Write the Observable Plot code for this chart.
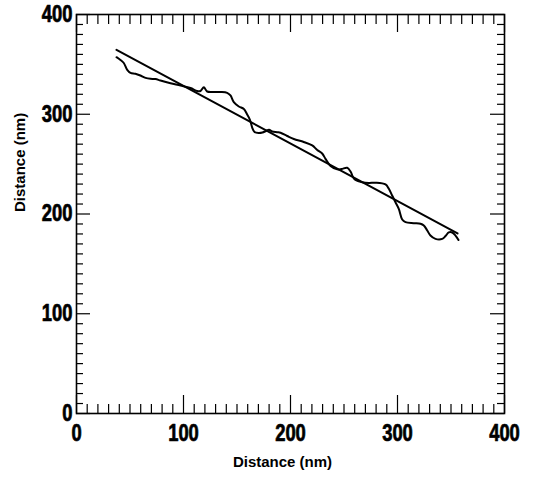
<!DOCTYPE html>
<html>
<head>
<meta charset="utf-8">
<script src="https://cdn.jsdelivr.net/npm/d3@7"></script>
<script src="https://cdn.jsdelivr.net/npm/@observablehq/plot@0.6"></script>
<style>
  html, body { margin: 0; padding: 0; background: #fff; }
</style>
</head>
<body>
<script>
// ---- data ----
const xTitle = "Distance (nm)";
const yTitle = "Distance (nm)";
const majorTicks = [0, 100, 200, 300, 400];
const minorTicks = d3.range(0, 401, 10).filter(v => v % 100 !== 0);

// measured profile (x in nm, y in nm)
const profileX = [37.4, 41.1, 44.2, 47.4, 50.5, 55.1, 59.8, 64.5, 69.2, 73.8, 78.5, 87.9, 97.2, 106.5, 112.8, 115.9, 119.0, 122.1, 128.3, 134.6, 140.8, 143.9, 147.0, 151.7, 156.4, 159.5, 162.0, 164.2, 166.4, 170.1, 173.8, 177.1, 179.9, 182.9, 187.6, 190.7, 196.9, 203.1, 212.4, 220.3, 225.0, 229.6, 232.7, 237.4, 243.6, 247.7, 253.0, 256.1, 258.6, 260.7, 267.0, 273.2, 279.4, 288.8, 291.9, 295.0, 298.1, 301.2, 304.4, 307.5, 315.2, 321.5, 324.6, 327.8, 330.8, 335.5, 341.8, 344.9, 347.9, 351.1, 354.2, 357.0];
const profileY = [357.2, 354.4, 351.4, 344.4, 341.4, 340.6, 338.8, 336.5, 335.5, 335.3, 333.8, 331.1, 328.8, 326.3, 323.3, 323.3, 327.0, 322.8, 322.3, 322.3, 321.5, 318.8, 312.1, 307.8, 305.3, 299.7, 294.7, 286.7, 282.2, 281.2, 281.7, 283.2, 284.5, 282.7, 282.0, 281.4, 278.2, 275.2, 272.2, 268.7, 264.2, 260.7, 255.3, 248.1, 244.8, 245.1, 246.3, 242.6, 236.6, 234.1, 231.9, 231.1, 231.3, 229.6, 225.3, 218.5, 211.8, 205.2, 194.5, 191.8, 190.8, 190.2, 188.5, 183.5, 178.4, 175.1, 175.1, 177.9, 181.5, 181.5, 178.4, 173.9];

// linear fit endpoints
const fitX = [37.4, 356.1];
const fitY = [364.6, 180.5];

// ---- build ----
const profile = profileX.map((x, i) => ({x, y: profileY[i]}));
const fit = fitX.map((x, i) => ({x, y: fitY[i]}));

const W = 537, H = 480;
const mL = 76, mR = 33, mT = 14, mB = 67;
const unitsPerPxX = 400 / (W - mL - mR);
const unitsPerPxY = 400 / (H - mT - mB);
const lx = px => px * unitsPerPxX;
const ly = px => px * unitsPerPxY;

const tickFont = "'Liberation Sans', Arial, Helvetica, sans-serif";
const titleFont = "'Liberation Sans', Arial, Helvetica, sans-serif";

const chart = Plot.plot({
  width: W,
  height: H,
  marginLeft: mL,
  marginRight: mR,
  marginTop: mT,
  marginBottom: mB,
  style: {background: "#fff", color: "#000", overflow: "visible"},
  x: {domain: [0, 400], axis: null},
  y: {domain: [0, 400], axis: null},
  marks: [
    // inward ticks: bottom & top
    Plot.ruleX(minorTicks, {x: d => d, y1: 0, y2: ly(9), stroke: "#000", strokeWidth: 1.2}),
    Plot.ruleX(majorTicks, {x: d => d, y1: 0, y2: ly(18), stroke: "#000", strokeWidth: 1.2}),
    Plot.ruleX(minorTicks, {x: d => d, y1: 400, y2: 400 - ly(10), stroke: "#000", strokeWidth: 1.2}),
    Plot.ruleX(majorTicks, {x: d => d, y1: 400, y2: 400 - ly(18), stroke: "#000", strokeWidth: 1.2}),
    // inward ticks: left & right
    Plot.ruleY(minorTicks, {y: d => d, x1: 0, x2: lx(7), stroke: "#000", strokeWidth: 1.2}),
    Plot.ruleY(majorTicks, {y: d => d, x1: 0, x2: lx(14), stroke: "#000", strokeWidth: 1.2}),
    Plot.ruleY(minorTicks, {y: d => d, x1: 400, x2: 400 - lx(7), stroke: "#000", strokeWidth: 1.2}),
    Plot.ruleY(majorTicks, {y: d => d, x1: 400, x2: 400 - lx(14), stroke: "#000", strokeWidth: 1.2}),
    Plot.frame({stroke: "#000", strokeWidth: 1.6}),
    // tick labels
    Plot.axisX(majorTicks, {anchor: "bottom", tickSize: 0, tickPadding: 11, label: null,
      fontSize: 23, fontWeight: "bold", fontFamily: tickFont, fill: "#000"}),
    Plot.axisY(majorTicks, {anchor: "left", tickSize: 0, tickPadding: 4, label: null,
      fontSize: 23, fontWeight: "bold", fontFamily: tickFont, fill: "#000"}),
    // axis titles
    Plot.text([xTitle], {frameAnchor: "bottom", dy: 53, dx: -8, text: d => d,
      fontSize: 15, fontWeight: "bold", fontFamily: titleFont, fill: "#000"}),
    Plot.text([yTitle], {frameAnchor: "left", dx: -56, dy: -2, rotate: -90, text: d => d,
      fontSize: 15, fontWeight: "bold", fontFamily: titleFont, fill: "#000"}),
    // data
    Plot.line(fit, {x: "x", y: "y", stroke: "#000", strokeWidth: 2}),
    Plot.line(profile, {x: "x", y: "y", stroke: "#000", strokeWidth: 2, curve: "catmull-rom"})
  ]
});

// condense and embolden the tick-label digits (reference uses a heavy condensed face)
chart.querySelectorAll('g[aria-label="x-axis tick label"] text, g[aria-label="y-axis tick label"] text').forEach(t => {
  const tr = t.getAttribute("transform");
  if (tr) {
    t.setAttribute("transform", tr + " scale(0.8,1)");
  } else {
    const x = +(t.getAttribute("x") || 0), y = +(t.getAttribute("y") || 0);
    t.removeAttribute("x"); t.removeAttribute("y");
    t.setAttribute("transform", `translate(${x},${y}) scale(0.8,1)`);
  }
  t.setAttribute("stroke", "#000");
  t.setAttribute("stroke-width", "0.7");
  t.setAttribute("stroke-linejoin", "round");
});
document.body.appendChild(chart);
</script>
</body>
</html>
